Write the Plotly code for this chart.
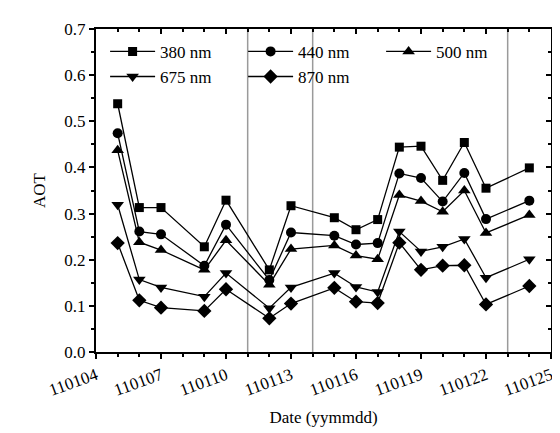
import plotly.graph_objects as go

# Date codes (yymmdd) of the observations
dates = [110105, 110106, 110107, 110109, 110110, 110112, 110113, 110115,
         110116, 110117, 110118, 110119, 110120, 110121, 110122, 110124]

aot_380 = [0.538, 0.313, 0.313, 0.228, 0.329, 0.178, 0.317, 0.291,
           0.265, 0.287, 0.444, 0.446, 0.372, 0.454, 0.355, 0.399]
aot_440 = [0.474, 0.261, 0.255, 0.187, 0.276, 0.156, 0.259, 0.252,
           0.233, 0.236, 0.387, 0.377, 0.326, 0.388, 0.288, 0.328]
aot_500 = [0.437, 0.238, 0.221, 0.178, 0.242, 0.146, 0.223, 0.231,
           0.209, 0.201, 0.340, 0.327, 0.304, 0.350, 0.258, 0.297]
aot_675 = [0.319, 0.157, 0.140, 0.120, 0.171, 0.095, 0.140, 0.171,
           0.141, 0.130, 0.261, 0.218, 0.228, 0.245, 0.161, 0.201]
aot_870 = [0.236, 0.112, 0.096, 0.089, 0.136, 0.073, 0.105, 0.139,
           0.109, 0.106, 0.237, 0.178, 0.187, 0.188, 0.103, 0.143]

series_names = ["380 nm", "440 nm", "500 nm", "675 nm", "870 nm"]
series_values = [aot_380, aot_440, aot_500, aot_675, aot_870]
symbols = ["square", "circle", "triangle-up", "triangle-down", "diamond"]
sizes = [9, 10, 11, 11, 11]

tick_labels = ["110104", "110107", "110110", "110113", "110116",
               "110119", "110122", "110125"]
tick_values = [int(t) for t in tick_labels]

# Days marked by gray vertical lines
marker_days = [110111, 110114, 110123]

x_range = [110104, 110125]
y_range = [0, 0.7]

FONT = "Liberation Serif, 'Times New Roman', Times, serif"

fig = go.Figure()
for name, vals, sym, sz in zip(series_names, series_values, symbols, sizes):
    fig.add_trace(go.Scatter(
        x=dates, y=vals, name=name, mode="lines+markers",
        line=dict(color="black", width=1.3),
        marker=dict(symbol=sym, size=sz, color="black"),
    ))

# invisible trace to create the mirrored (top/right) axes
fig.add_trace(go.Scatter(x=x_range, y=y_range, xaxis="x2", yaxis="y2",
                         mode="markers", marker=dict(opacity=0),
                         showlegend=False, hoverinfo="skip"))

for d in marker_days:
    fig.add_vline(x=d, line=dict(color="#9a9a9a", width=1.5), layer="below")

fig.update_layout(
    width=560, height=433,
    margin=dict(l=88, r=17, t=13, b=89),
    paper_bgcolor="white", plot_bgcolor="white",
    font=dict(family=FONT, size=17, color="black"),
    showlegend=True,
    legend=dict(
        orientation="h", x=0.02, y=0.985, xanchor="left", yanchor="top",
        entrywidth=78, entrywidthmode="pixels",
        bgcolor="rgba(0,0,0,0)", font=dict(family=FONT, size=17),
        tracegroupgap=0, itemwidth=45,
    ),
    xaxis=dict(
        range=x_range, tickmode="array", tickvals=tick_values,
        ticktext=tick_labels, tickangle=-20,
        ticks="outside", ticklen=5, tickwidth=2, tickcolor="black",
        minor=dict(ticks="outside", dtick=1, tick0=110104, ticklen=3,
                   tickwidth=2, tickcolor="black"),
        showline=True, linewidth=2, linecolor="black",
        showgrid=False, zeroline=False,
        title=dict(text="Date (yymmdd)", standoff=12,
                   font=dict(family=FONT, size=17)),
        tickfont=dict(family=FONT, size=17),
    ),
    yaxis=dict(
        range=y_range, dtick=0.1, tickformat=".1f",
        ticks="outside", ticklen=5, tickwidth=2, tickcolor="black",
        minor=dict(ticks="outside", dtick=0.05, ticklen=3, tickwidth=2,
                   tickcolor="black"),
        showline=True, linewidth=2, linecolor="black",
        showgrid=False, zeroline=False,
        title=dict(text="AOT", standoff=14,
                   font=dict(family=FONT, size=17)),
        tickfont=dict(family=FONT, size=17),
    ),
    xaxis2=dict(
        overlaying="x", side="top", range=x_range,
        tickmode="array", tickvals=tick_values, showticklabels=False,
        ticks="inside", ticklen=5, tickwidth=2, tickcolor="black",
        minor=dict(ticks="inside", dtick=1, tick0=110104, ticklen=3,
                   tickwidth=2, tickcolor="black"),
        showline=True, linewidth=2, linecolor="black",
        showgrid=False, zeroline=False,
    ),
    yaxis2=dict(
        overlaying="y", side="right", range=y_range, dtick=0.1,
        showticklabels=False,
        ticks="inside", ticklen=5, tickwidth=2, tickcolor="black",
        minor=dict(ticks="inside", dtick=0.05, ticklen=3, tickwidth=2,
                   tickcolor="black"),
        showline=True, linewidth=2, linecolor="black",
        showgrid=False, zeroline=False,
    ),
)

fig.write_html("out.html")
